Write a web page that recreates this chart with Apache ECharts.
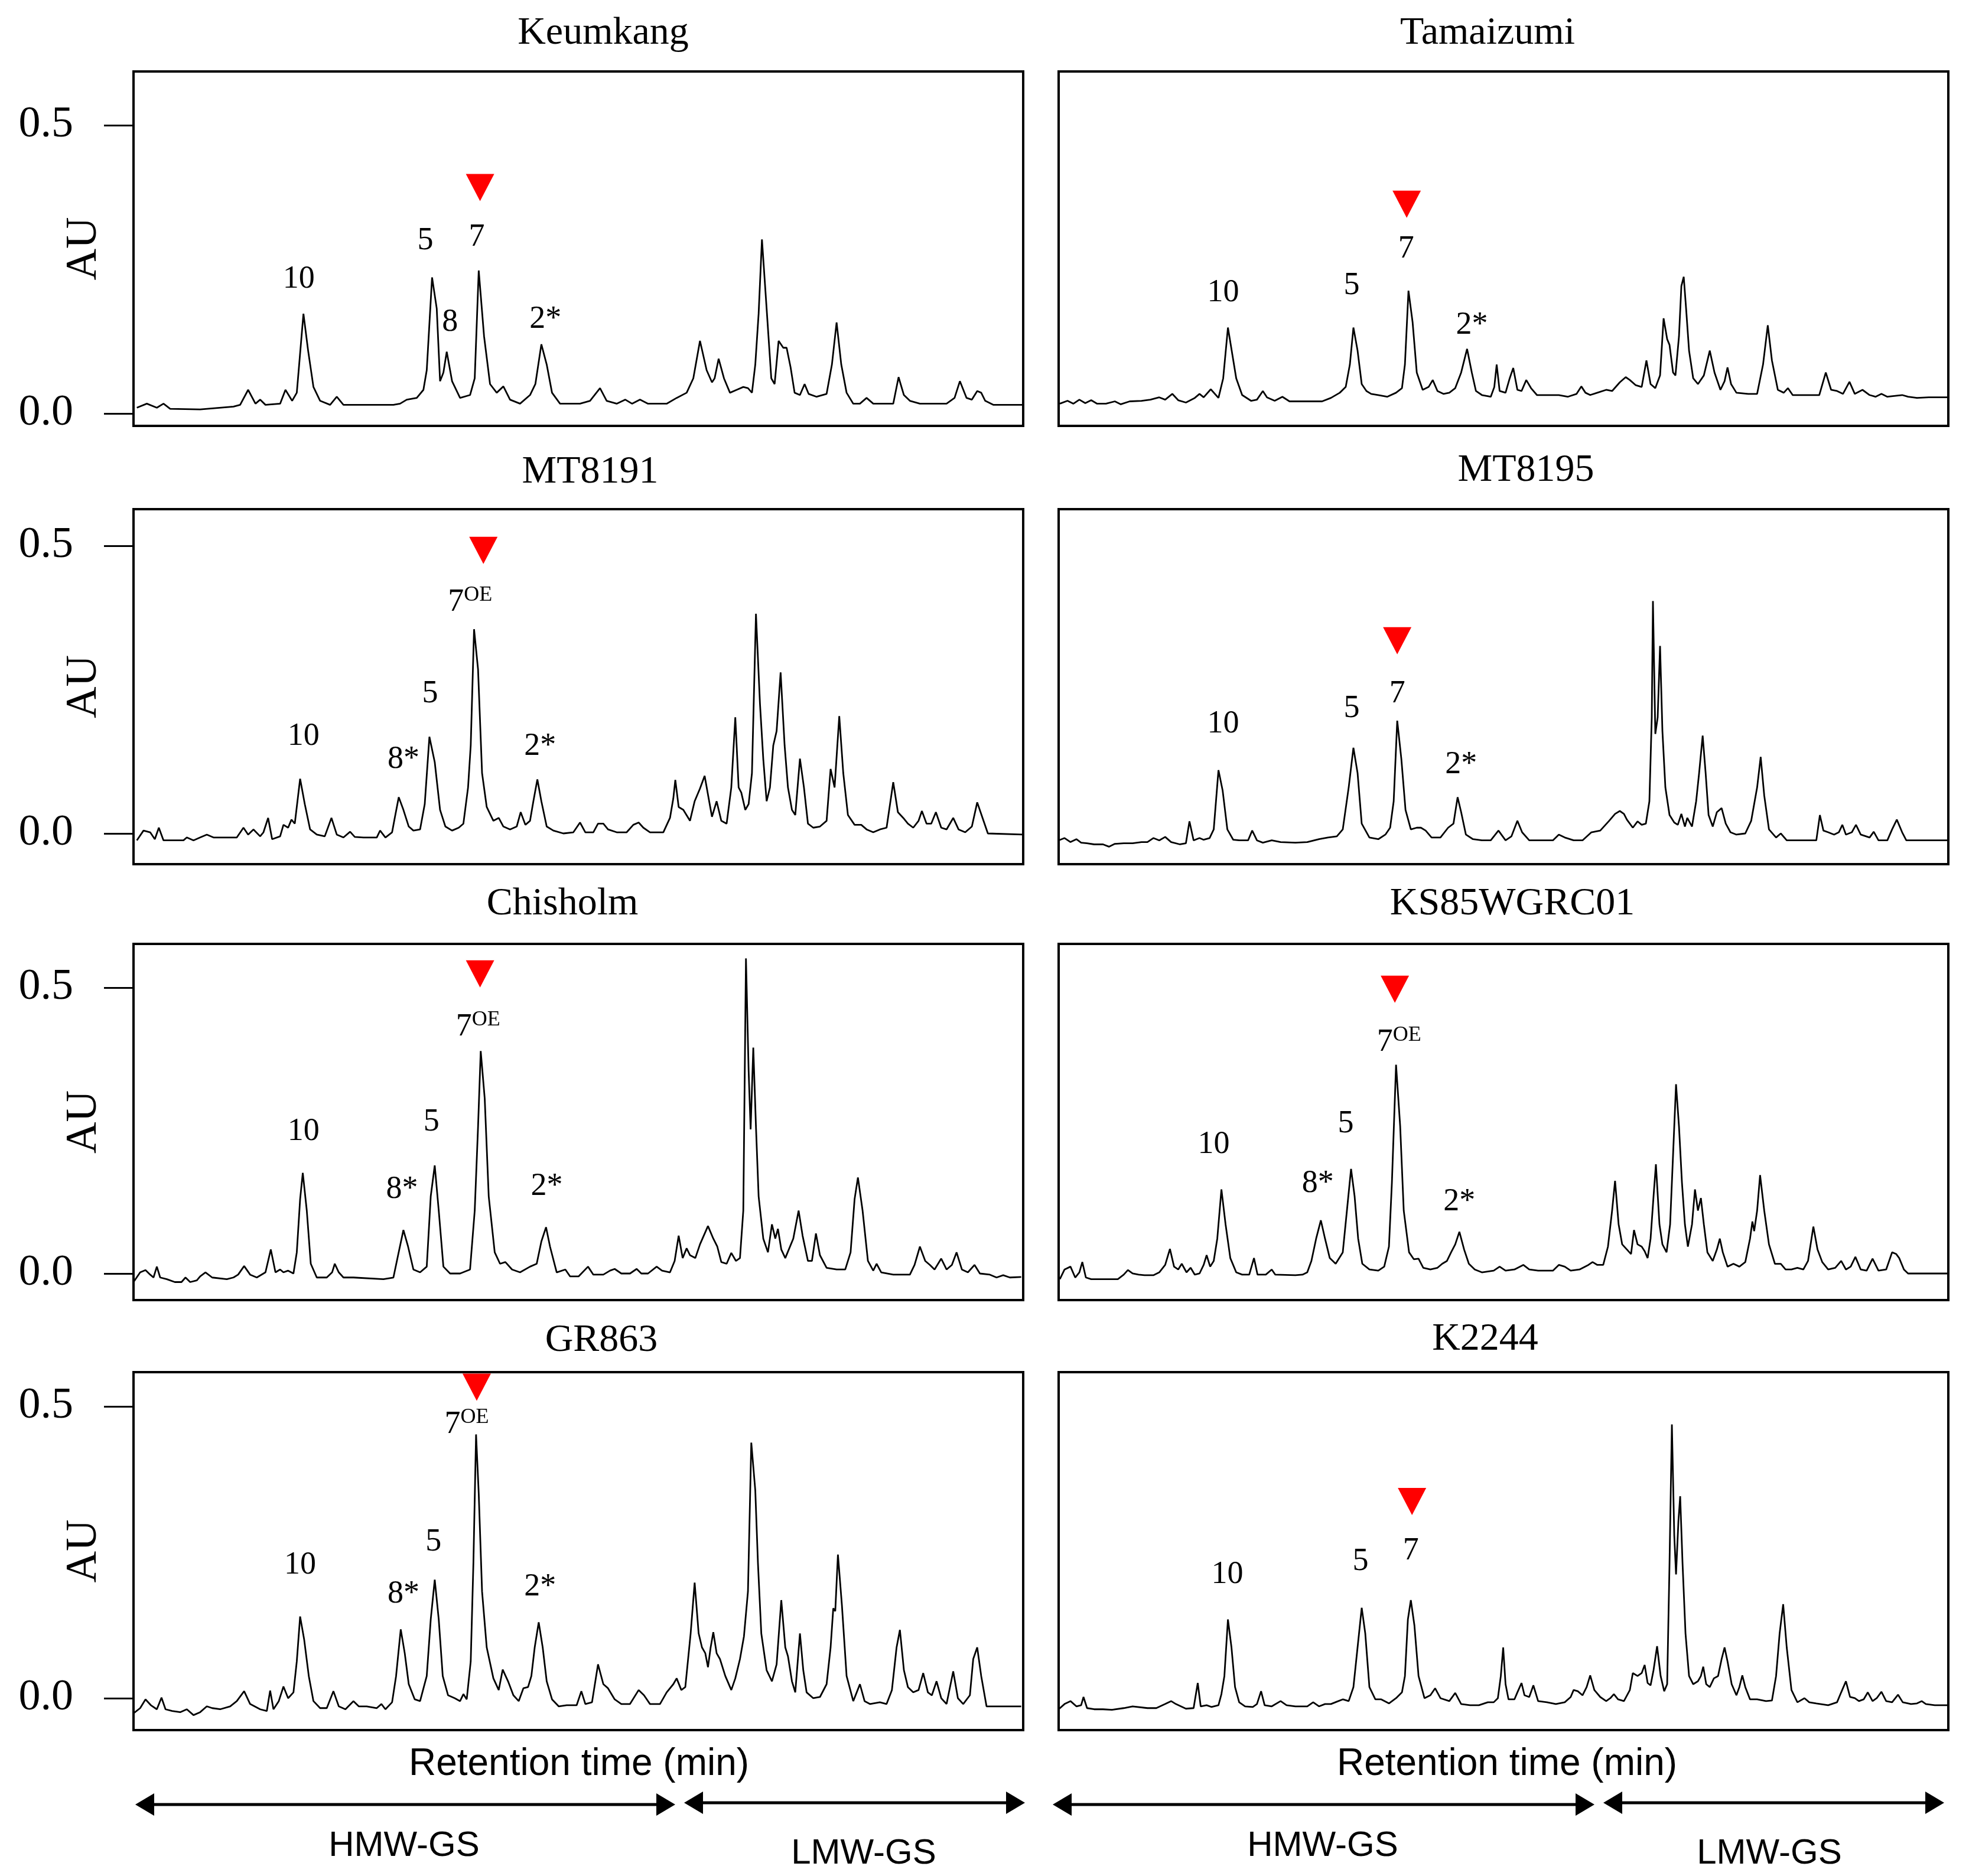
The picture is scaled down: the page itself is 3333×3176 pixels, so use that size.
<!DOCTYPE html>
<html><head><meta charset="utf-8">
<script src="https://cdn.jsdelivr.net/npm/echarts@6/dist/echarts.min.js"></script>
<style>html,body{margin:0;padding:0;background:#fff}#c{width:3333px;height:3176px}</style>
</head><body><div id="c"></div>
<script>
// ---------- DATA ----------
const sampleNames = ['Keumkang','Tamaizumi','MT8191','MT8195','Chisholm','KS85WGRC01','GR863','K2244'];
const yTicks = [0, 0.5];

const keumkang = [[4.1,0.010],[4.4,0.017],[4.7,0.010],[4.9,0.017],[5.1,0.008],[6.0,0.007],[7.0,0.012],[7.2,0.015],[7.44,0.041],[7.66,0.017],[7.8,0.024],[7.96,0.015],[8.4,0.017],[8.56,0.041],[8.76,0.022],[8.9,0.036],[9.1,0.173],[9.24,0.109],[9.4,0.046],[9.6,0.022],[9.9,0.015],[10.1,0.029],[10.3,0.015],[10.5,0.015],[11.8,0.015],[12.0,0.017],[12.2,0.024],[12.5,0.027],[12.7,0.041],[12.8,0.075],[12.96,0.236],[13.1,0.182],[13.2,0.056],[13.3,0.071],[13.4,0.107],[13.56,0.056],[13.8,0.027],[14.1,0.032],[14.24,0.061],[14.36,0.248],[14.52,0.134],[14.7,0.051],[14.9,0.036],[15.1,0.047],[15.3,0.024],[15.6,0.017],[15.9,0.032],[16.06,0.051],[16.24,0.120],[16.4,0.085],[16.56,0.036],[16.8,0.017],[17.4,0.017],[17.7,0.022],[18.0,0.044],[18.2,0.022],[18.5,0.017],[18.76,0.024],[18.96,0.017],[19.2,0.024],[19.44,0.017],[20.0,0.017],[20.3,0.027],[20.6,0.036],[20.8,0.061],[21.0,0.126],[21.2,0.075],[21.36,0.054],[21.44,0.061],[21.56,0.095],[21.72,0.061],[21.9,0.036],[22.1,0.041],[22.3,0.046],[22.44,0.044],[22.56,0.036],[22.66,0.085],[22.76,0.173],[22.86,0.302],[23.0,0.182],[23.14,0.061],[23.24,0.051],[23.36,0.126],[23.5,0.114],[23.6,0.114],[23.72,0.080],[23.84,0.036],[24.0,0.032],[24.14,0.051],[24.26,0.034],[24.5,0.029],[24.8,0.034],[24.96,0.085],[25.1,0.158],[25.24,0.085],[25.4,0.036],[25.6,0.017],[25.8,0.017],[26.0,0.027],[26.2,0.017],[26.8,0.017],[26.96,0.063],[27.12,0.032],[27.3,0.022],[27.6,0.017],[28.4,0.017],[28.64,0.027],[28.8,0.056],[29.0,0.027],[29.16,0.024],[29.32,0.039],[29.44,0.036],[29.56,0.022],[29.8,0.015],[30.7,0.015]];

const tamaizumi = [[0.44,0.017],[0.7,0.022],[0.9,0.017],[1.1,0.024],[1.3,0.018],[1.5,0.023],[1.7,0.017],[2.0,0.017],[2.3,0.021],[2.5,0.016],[2.8,0.021],[3.2,0.022],[3.5,0.024],[3.8,0.028],[4.0,0.024],[4.24,0.034],[4.44,0.023],[4.7,0.019],[5.0,0.027],[5.16,0.034],[5.3,0.028],[5.54,0.042],[5.8,0.027],[5.96,0.061],[6.12,0.149],[6.26,0.105],[6.4,0.061],[6.6,0.032],[6.9,0.022],[7.1,0.024],[7.3,0.039],[7.44,0.028],[7.7,0.022],[7.96,0.029],[8.2,0.021],[9.3,0.021],[9.6,0.027],[9.9,0.036],[10.1,0.046],[10.24,0.085],[10.36,0.149],[10.5,0.109],[10.64,0.051],[10.8,0.039],[10.96,0.034],[11.2,0.032],[11.5,0.029],[11.8,0.036],[12.0,0.044],[12.1,0.085],[12.22,0.213],[12.36,0.158],[12.5,0.071],[12.7,0.041],[12.9,0.046],[13.04,0.058],[13.2,0.039],[13.4,0.034],[13.6,0.036],[13.8,0.044],[14.0,0.071],[14.2,0.112],[14.36,0.071],[14.5,0.039],[14.7,0.032],[15.0,0.029],[15.12,0.046],[15.2,0.085],[15.3,0.039],[15.5,0.036],[15.64,0.061],[15.76,0.079],[15.9,0.041],[16.04,0.039],[16.2,0.058],[16.36,0.044],[16.56,0.032],[17.0,0.032],[17.3,0.032],[17.6,0.029],[17.9,0.034],[18.06,0.047],[18.2,0.036],[18.36,0.032],[18.6,0.036],[18.9,0.041],[19.1,0.039],[19.36,0.054],[19.56,0.063],[19.7,0.058],[19.9,0.049],[20.1,0.046],[20.26,0.092],[20.4,0.051],[20.56,0.044],[20.72,0.066],[20.84,0.165],[20.96,0.129],[21.04,0.119],[21.16,0.071],[21.24,0.066],[21.36,0.134],[21.44,0.221],[21.52,0.237],[21.6,0.182],[21.7,0.109],[21.84,0.061],[22.0,0.051],[22.2,0.066],[22.4,0.109],[22.56,0.071],[22.76,0.041],[22.9,0.056],[23.0,0.080],[23.12,0.051],[23.3,0.036],[23.7,0.034],[24.0,0.034],[24.2,0.085],[24.36,0.153],[24.5,0.092],[24.7,0.041],[24.9,0.036],[25.04,0.044],[25.2,0.032],[25.6,0.032],[26.1,0.032],[26.32,0.071],[26.5,0.041],[26.7,0.039],[26.9,0.034],[27.12,0.055],[27.3,0.034],[27.56,0.041],[27.8,0.032],[28.0,0.029],[28.2,0.034],[28.4,0.029],[28.9,0.032],[29.1,0.029],[29.4,0.027],[29.8,0.028],[30.5,0.028]];

const mt8191 = [[4.1,-0.012],[4.3,0.005],[4.5,0.002],[4.64,-0.010],[4.76,0.010],[4.9,-0.012],[5.2,-0.012],[5.5,-0.012],[5.6,-0.007],[5.8,-0.012],[6.0,-0.007],[6.2,-0.002],[6.4,-0.007],[7.1,-0.007],[7.3,0.010],[7.44,-0.002],[7.6,0.007],[7.8,-0.005],[7.9,0.002],[8.04,0.027],[8.16,-0.010],[8.4,-0.005],[8.5,0.015],[8.64,0.010],[8.74,0.024],[8.84,0.017],[9.0,0.095],[9.14,0.051],[9.3,0.007],[9.5,-0.002],[9.74,-0.005],[9.94,0.027],[10.1,-0.002],[10.3,-0.007],[10.5,0.003],[10.64,-0.006],[10.9,-0.007],[11.3,-0.007],[11.4,0.005],[11.56,-0.007],[11.76,0.002],[11.84,0.027],[11.96,0.063],[12.1,0.041],[12.26,0.012],[12.4,0.005],[12.6,0.007],[12.74,0.051],[12.88,0.168],[13.04,0.124],[13.2,0.041],[13.36,0.012],[13.56,0.005],[13.76,0.010],[13.9,0.017],[14.04,0.080],[14.12,0.153],[14.22,0.355],[14.34,0.285],[14.46,0.105],[14.6,0.046],[14.8,0.022],[14.96,0.027],[15.1,0.012],[15.3,0.007],[15.5,0.012],[15.62,0.037],[15.76,0.015],[15.9,0.022],[16.0,0.056],[16.12,0.094],[16.24,0.056],[16.4,0.012],[16.6,0.005],[16.9,0.000],[17.2,0.002],[17.4,0.019],[17.56,0.002],[17.8,0.002],[17.94,0.017],[18.1,0.017],[18.24,0.007],[18.5,0.002],[18.8,0.002],[19.0,0.015],[19.16,0.019],[19.3,0.010],[19.5,0.002],[19.9,0.002],[20.1,0.027],[20.2,0.061],[20.26,0.093],[20.36,0.046],[20.5,0.041],[20.7,0.022],[20.84,0.056],[21.0,0.078],[21.14,0.100],[21.26,0.061],[21.36,0.029],[21.5,0.056],[21.64,0.022],[21.8,0.017],[21.94,0.080],[22.06,0.202],[22.16,0.080],[22.24,0.071],[22.36,0.041],[22.46,0.051],[22.56,0.105],[22.68,0.382],[22.8,0.226],[22.9,0.129],[23.0,0.056],[23.1,0.080],[23.2,0.153],[23.3,0.178],[23.42,0.280],[23.54,0.153],[23.64,0.080],[23.76,0.041],[23.86,0.032],[24.0,0.130],[24.12,0.080],[24.24,0.017],[24.4,0.010],[24.6,0.012],[24.8,0.022],[24.92,0.112],[25.04,0.080],[25.18,0.204],[25.3,0.105],[25.44,0.032],[25.64,0.015],[25.84,0.015],[26.0,0.007],[26.2,0.002],[26.4,0.007],[26.6,0.010],[26.8,0.089],[26.94,0.037],[27.1,0.027],[27.24,0.017],[27.4,0.010],[27.56,0.022],[27.66,0.039],[27.8,0.017],[27.94,0.017],[28.08,0.037],[28.24,0.010],[28.4,0.007],[28.6,0.027],[28.76,0.007],[28.96,0.002],[29.16,0.012],[29.32,0.054],[29.48,0.027],[29.64,0.000],[30.7,-0.002]];

const mt8195 = [[0.4,-0.012],[0.6,-0.008],[0.8,-0.015],[1.0,-0.010],[1.16,-0.016],[1.36,-0.017],[1.6,-0.019],[1.9,-0.019],[2.1,-0.023],[2.3,-0.018],[2.6,-0.017],[2.9,-0.017],[3.2,-0.015],[3.4,-0.015],[3.6,-0.008],[3.8,-0.012],[4.0,-0.006],[4.2,-0.015],[4.5,-0.019],[4.7,-0.017],[4.82,0.021],[4.96,-0.012],[5.16,-0.008],[5.3,-0.011],[5.5,-0.008],[5.64,0.007],[5.8,0.110],[5.94,0.075],[6.1,0.007],[6.3,-0.011],[6.5,-0.012],[6.8,-0.012],[6.94,0.005],[7.1,-0.012],[7.3,-0.016],[7.6,-0.012],[7.9,-0.015],[8.4,-0.016],[8.8,-0.015],[9.2,-0.010],[9.5,-0.007],[9.8,-0.005],[10.0,0.007],[10.2,0.080],[10.36,0.149],[10.5,0.105],[10.64,0.017],[10.9,-0.007],[11.2,-0.010],[11.44,-0.002],[11.6,0.010],[11.72,0.056],[11.84,0.196],[11.98,0.129],[12.12,0.041],[12.3,0.007],[12.5,0.010],[12.64,0.010],[12.8,0.005],[13.0,-0.007],[13.3,-0.007],[13.56,0.010],[13.74,0.017],[13.88,0.063],[14.0,0.037],[14.16,-0.002],[14.4,-0.010],[14.7,-0.012],[15.0,-0.012],[15.26,0.005],[15.5,-0.012],[15.7,-0.005],[15.9,0.022],[16.06,0.002],[16.3,-0.012],[16.8,-0.012],[17.1,-0.012],[17.3,-0.002],[17.5,-0.007],[17.8,-0.012],[18.1,-0.012],[18.4,0.002],[18.7,0.005],[19.0,0.022],[19.2,0.034],[19.36,0.039],[19.5,0.034],[19.6,0.024],[19.8,0.010],[19.96,0.021],[20.1,0.015],[20.24,0.017],[20.36,0.056],[20.44,0.202],[20.48,0.404],[20.56,0.173],[20.64,0.202],[20.72,0.326],[20.8,0.178],[20.9,0.080],[21.04,0.032],[21.2,0.019],[21.32,0.015],[21.44,0.034],[21.56,0.012],[21.64,0.027],[21.8,0.012],[21.94,0.056],[22.04,0.105],[22.16,0.170],[22.26,0.105],[22.36,0.032],[22.5,0.012],[22.64,0.037],[22.8,0.044],[22.94,0.017],[23.1,0.002],[23.3,-0.002],[23.6,0.000],[23.8,0.022],[24.0,0.080],[24.12,0.133],[24.24,0.066],[24.4,0.007],[24.64,-0.007],[24.8,0.000],[25.0,-0.012],[26.0,-0.012],[26.12,0.032],[26.24,0.005],[26.4,0.002],[26.6,-0.002],[26.76,0.002],[26.88,0.015],[27.0,-0.002],[27.2,0.002],[27.34,0.015],[27.5,-0.002],[27.8,-0.007],[27.94,0.003],[28.1,-0.012],[28.4,-0.012],[28.56,0.007],[28.72,0.024],[28.9,0.002],[29.04,-0.012],[30.44,-0.012]];

const chisholm = [[4.0,-0.015],[4.2,0.002],[4.36,0.006],[4.5,-0.002],[4.6,-0.007],[4.7,0.012],[4.8,-0.007],[5.0,-0.010],[5.24,-0.015],[5.44,-0.015],[5.56,-0.007],[5.7,-0.015],[5.9,-0.012],[6.0,-0.005],[6.16,0.002],[6.36,-0.007],[6.8,-0.010],[7.0,-0.007],[7.14,-0.002],[7.32,0.013],[7.5,-0.002],[7.7,-0.007],[7.96,0.002],[8.12,0.042],[8.26,0.002],[8.4,0.007],[8.5,0.002],[8.64,0.005],[8.8,0.000],[8.9,0.037],[9.0,0.130],[9.08,0.176],[9.2,0.110],[9.32,0.017],[9.5,-0.007],[9.8,-0.007],[9.96,0.002],[10.04,0.017],[10.16,0.002],[10.3,-0.007],[10.6,-0.007],[11.5,-0.010],[11.8,-0.007],[11.94,0.032],[12.1,0.076],[12.24,0.047],[12.4,0.007],[12.6,0.002],[12.8,0.012],[12.92,0.135],[13.04,0.189],[13.16,0.110],[13.3,0.012],[13.5,0.000],[13.8,0.000],[14.1,0.007],[14.24,0.110],[14.34,0.257],[14.42,0.389],[14.54,0.306],[14.66,0.135],[14.84,0.037],[15.0,0.017],[15.16,0.020],[15.36,0.007],[15.6,0.002],[15.9,0.012],[16.1,0.017],[16.24,0.056],[16.38,0.081],[16.5,0.047],[16.7,0.002],[16.96,0.007],[17.1,-0.005],[17.36,-0.005],[17.64,0.012],[17.8,-0.002],[18.1,-0.002],[18.3,0.005],[18.44,0.008],[18.64,0.000],[18.9,0.000],[19.1,0.008],[19.24,0.000],[19.44,0.000],[19.7,0.012],[19.86,0.005],[20.1,0.002],[20.24,0.022],[20.36,0.066],[20.48,0.027],[20.6,0.044],[20.7,0.032],[20.86,0.027],[21.0,0.051],[21.24,0.083],[21.4,0.061],[21.52,0.047],[21.64,0.020],[21.8,0.017],[21.94,0.036],[22.08,0.022],[22.2,0.027],[22.3,0.110],[22.38,0.551],[22.46,0.355],[22.52,0.252],[22.6,0.395],[22.68,0.257],[22.76,0.135],[22.9,0.061],[23.04,0.037],[23.16,0.086],[23.26,0.061],[23.34,0.078],[23.44,0.042],[23.56,0.027],[23.8,0.061],[23.96,0.110],[24.08,0.066],[24.24,0.022],[24.36,0.022],[24.48,0.070],[24.6,0.032],[24.8,0.010],[25.1,0.007],[25.36,0.007],[25.52,0.037],[25.64,0.130],[25.74,0.168],[25.88,0.110],[26.04,0.022],[26.2,0.005],[26.3,0.017],[26.44,0.002],[26.8,-0.002],[27.3,-0.002],[27.44,0.015],[27.6,0.047],[27.76,0.022],[27.9,0.015],[28.04,0.007],[28.24,0.026],[28.4,0.007],[28.56,0.015],[28.7,0.037],[28.86,0.007],[29.04,0.002],[29.24,0.015],[29.4,0.000],[29.7,-0.002],[29.9,-0.007],[30.1,-0.003],[30.3,-0.007],[30.64,-0.006]];

const ks85wgrc01 = [[0.44,-0.010],[0.6,0.007],[0.8,0.012],[0.96,-0.007],[1.1,0.002],[1.2,0.020],[1.32,-0.007],[1.5,-0.010],[2.4,-0.010],[2.6,-0.002],[2.74,0.006],[2.9,0.000],[3.1,-0.002],[3.3,-0.003],[3.6,-0.003],[3.8,0.002],[4.0,0.015],[4.16,0.043],[4.3,0.012],[4.44,0.007],[4.56,0.017],[4.72,0.002],[4.86,0.010],[5.0,-0.002],[5.16,0.000],[5.3,0.015],[5.4,0.032],[5.52,0.012],[5.64,0.022],[5.76,0.061],[5.9,0.147],[6.04,0.086],[6.2,0.027],[6.4,0.002],[6.6,-0.002],[6.84,-0.002],[7.0,0.027],[7.12,-0.002],[7.4,-0.002],[7.6,0.007],[7.72,-0.002],[8.4,-0.003],[8.64,-0.002],[8.8,0.002],[8.94,0.022],[9.1,0.061],[9.26,0.093],[9.4,0.061],[9.56,0.027],[9.76,0.017],[10.0,0.037],[10.14,0.110],[10.28,0.183],[10.4,0.135],[10.52,0.061],[10.66,0.017],[10.9,0.007],[11.2,0.005],[11.4,0.012],[11.56,0.047],[11.66,0.159],[11.8,0.365],[11.94,0.257],[12.06,0.110],[12.24,0.037],[12.4,0.025],[12.56,0.026],[12.72,0.010],[12.96,0.007],[13.2,0.010],[13.36,0.017],[13.52,0.022],[13.66,0.037],[13.8,0.051],[13.94,0.073],[14.1,0.042],[14.26,0.017],[14.46,0.007],[14.7,0.002],[15.1,0.005],[15.3,0.012],[15.5,0.005],[15.8,0.007],[16.1,0.015],[16.3,0.007],[16.6,0.005],[17.1,0.005],[17.3,0.015],[17.5,0.012],[17.7,0.005],[18.0,0.007],[18.3,0.015],[18.44,0.020],[18.6,0.015],[18.8,0.015],[18.96,0.047],[19.1,0.110],[19.2,0.162],[19.32,0.086],[19.44,0.051],[19.6,0.042],[19.74,0.034],[19.84,0.076],[19.96,0.051],[20.1,0.047],[20.2,0.039],[20.3,0.027],[20.4,0.061],[20.5,0.135],[20.58,0.191],[20.7,0.086],[20.8,0.051],[20.94,0.037],[21.06,0.086],[21.16,0.208],[21.26,0.331],[21.36,0.257],[21.46,0.159],[21.56,0.086],[21.66,0.047],[21.8,0.086],[21.9,0.147],[22.0,0.110],[22.1,0.132],[22.2,0.086],[22.32,0.037],[22.5,0.022],[22.64,0.042],[22.74,0.061],[22.84,0.037],[23.0,0.012],[23.2,0.017],[23.4,0.012],[23.6,0.020],[23.76,0.061],[23.84,0.091],[23.9,0.074],[24.0,0.110],[24.1,0.172],[24.24,0.110],[24.4,0.051],[24.6,0.017],[24.8,0.017],[24.96,0.007],[25.16,0.007],[25.36,0.010],[25.56,0.007],[25.72,0.022],[25.9,0.082],[26.04,0.042],[26.2,0.020],[26.4,0.007],[26.64,0.010],[26.84,0.022],[27.0,0.007],[27.16,0.012],[27.32,0.029],[27.5,0.007],[27.7,0.005],[27.9,0.026],[28.1,0.005],[28.36,0.007],[28.56,0.037],[28.7,0.034],[28.8,0.027],[28.96,0.007],[29.1,0.000],[30.5,0.000]];

const gr863 = [[4.0,-0.026],[4.2,-0.017],[4.36,-0.002],[4.52,-0.012],[4.7,-0.019],[4.84,0.001],[4.96,-0.019],[5.16,-0.022],[5.4,-0.024],[5.6,-0.019],[5.8,-0.029],[6.0,-0.024],[6.2,-0.014],[6.36,-0.017],[6.6,-0.019],[6.9,-0.014],[7.1,-0.005],[7.32,0.012],[7.5,-0.010],[7.8,-0.019],[8.0,-0.022],[8.1,0.013],[8.2,-0.019],[8.36,-0.005],[8.5,0.020],[8.64,0.000],[8.8,0.010],[8.9,0.063],[9.0,0.140],[9.12,0.101],[9.26,0.038],[9.4,-0.005],[9.6,-0.017],[9.8,-0.017],[10.0,0.012],[10.16,-0.014],[10.36,-0.019],[10.6,-0.005],[10.76,-0.014],[11.0,-0.014],[11.3,-0.017],[11.44,-0.010],[11.56,-0.019],[11.76,-0.007],[11.88,0.038],[12.02,0.118],[12.14,0.077],[12.26,0.024],[12.44,-0.002],[12.6,-0.005],[12.8,0.038],[12.92,0.135],[13.04,0.203],[13.16,0.135],[13.28,0.038],[13.44,0.005],[13.64,0.000],[13.8,-0.005],[13.9,0.007],[14.0,-0.002],[14.12,0.063],[14.2,0.231],[14.28,0.452],[14.36,0.351],[14.46,0.183],[14.6,0.087],[14.8,0.034],[14.96,0.014],[15.08,0.049],[15.24,0.029],[15.4,0.005],[15.56,-0.005],[15.7,0.017],[15.84,0.019],[15.94,0.038],[16.04,0.087],[16.16,0.130],[16.28,0.087],[16.4,0.029],[16.56,-0.002],[16.76,-0.014],[17.0,-0.012],[17.3,-0.012],[17.44,0.012],[17.56,-0.010],[17.76,-0.007],[17.94,0.058],[18.1,0.024],[18.24,0.017],[18.44,-0.002],[18.64,-0.010],[18.9,-0.010],[19.16,0.014],[19.32,0.005],[19.5,-0.010],[19.8,-0.010],[20.0,0.010],[20.2,0.024],[20.3,0.034],[20.44,0.014],[20.56,0.019],[20.72,0.111],[20.84,0.198],[20.96,0.111],[21.06,0.087],[21.16,0.077],[21.24,0.053],[21.32,0.087],[21.4,0.113],[21.5,0.077],[21.6,0.067],[21.76,0.038],[21.94,0.014],[22.06,0.034],[22.2,0.067],[22.32,0.106],[22.44,0.183],[22.54,0.438],[22.66,0.356],[22.74,0.231],[22.84,0.111],[23.0,0.048],[23.16,0.029],[23.3,0.058],[23.44,0.168],[23.56,0.087],[23.64,0.072],[23.76,0.029],[23.86,0.010],[24.0,0.111],[24.1,0.048],[24.2,0.010],[24.4,0.000],[24.6,0.002],[24.8,0.024],[24.92,0.087],[25.0,0.154],[25.06,0.149],[25.14,0.246],[25.26,0.159],[25.4,0.038],[25.6,-0.005],[25.8,0.024],[25.94,-0.005],[26.1,-0.010],[26.4,-0.007],[26.6,-0.010],[26.76,0.014],[26.9,0.087],[27.0,0.117],[27.12,0.048],[27.24,0.019],[27.4,0.010],[27.56,0.014],[27.7,0.043],[27.84,0.010],[27.96,0.005],[28.1,0.029],[28.24,0.000],[28.4,-0.010],[28.6,0.046],[28.74,0.000],[28.9,-0.010],[29.1,0.005],[29.2,0.067],[29.32,0.087],[29.44,0.038],[29.6,-0.014],[30.64,-0.014]];

const k2244 = [[0.4,-0.019],[0.6,-0.010],[0.8,-0.005],[1.0,-0.014],[1.16,-0.012],[1.24,0.002],[1.36,-0.017],[1.6,-0.019],[1.9,-0.019],[2.2,-0.020],[2.6,-0.017],[2.9,-0.014],[3.4,-0.017],[3.7,-0.017],[4.0,-0.010],[4.2,-0.005],[4.36,-0.010],[4.7,-0.018],[4.96,-0.017],[5.1,0.026],[5.2,-0.014],[5.4,-0.012],[5.56,-0.015],[5.8,-0.012],[5.9,0.007],[6.0,0.038],[6.12,0.135],[6.24,0.087],[6.36,0.019],[6.5,-0.007],[6.7,-0.014],[6.96,-0.015],[7.1,-0.010],[7.24,0.012],[7.36,-0.012],[7.6,-0.014],[7.9,-0.005],[8.1,-0.012],[8.4,-0.014],[8.8,-0.014],[9.0,-0.007],[9.2,-0.014],[9.4,-0.010],[9.6,-0.010],[9.8,-0.006],[10.0,-0.002],[10.2,-0.005],[10.36,0.019],[10.5,0.087],[10.64,0.155],[10.76,0.111],[10.9,0.019],[11.1,-0.002],[11.3,-0.002],[11.56,-0.009],[11.8,0.000],[12.0,0.010],[12.1,0.038],[12.2,0.135],[12.3,0.168],[12.42,0.125],[12.56,0.038],[12.76,0.000],[12.96,0.005],[13.12,0.017],[13.3,0.000],[13.6,-0.005],[13.8,0.009],[14.0,-0.010],[14.3,-0.012],[14.6,-0.012],[14.9,-0.007],[15.1,-0.007],[15.24,0.000],[15.34,0.038],[15.42,0.087],[15.5,0.024],[15.6,-0.002],[15.8,-0.002],[15.9,0.010],[16.04,0.026],[16.14,0.005],[16.3,0.002],[16.44,0.022],[16.6,-0.005],[16.9,-0.007],[17.2,-0.010],[17.5,-0.007],[17.7,0.002],[17.8,0.014],[17.94,0.012],[18.1,0.005],[18.24,0.019],[18.36,0.039],[18.5,0.014],[18.7,0.002],[18.9,-0.005],[19.04,0.000],[19.16,0.007],[19.3,-0.002],[19.5,-0.005],[19.7,0.014],[19.8,0.043],[19.96,0.038],[20.1,0.043],[20.2,0.057],[20.3,0.026],[20.4,0.022],[20.5,0.048],[20.62,0.089],[20.74,0.038],[20.86,0.012],[20.96,0.024],[21.04,0.231],[21.12,0.469],[21.2,0.279],[21.26,0.212],[21.34,0.303],[21.4,0.346],[21.48,0.231],[21.58,0.111],[21.7,0.038],[21.84,0.024],[22.0,0.029],[22.1,0.038],[22.18,0.054],[22.28,0.024],[22.4,0.019],[22.54,0.034],[22.68,0.038],[22.8,0.067],[22.9,0.087],[23.0,0.063],[23.14,0.024],[23.3,0.005],[23.4,0.019],[23.5,0.039],[23.6,0.019],[23.76,-0.002],[24.0,-0.002],[24.3,-0.005],[24.5,-0.004],[24.64,0.038],[24.76,0.111],[24.88,0.161],[25.0,0.087],[25.16,0.014],[25.36,-0.007],[25.6,0.000],[25.76,-0.007],[26.0,-0.009],[26.4,-0.012],[26.7,-0.007],[26.84,0.010],[27.0,0.029],[27.14,0.002],[27.3,0.000],[27.44,-0.005],[27.6,-0.002],[27.74,0.010],[27.9,-0.005],[28.04,0.000],[28.2,0.011],[28.36,-0.005],[28.56,-0.007],[28.76,0.006],[28.92,-0.007],[29.2,-0.010],[29.4,-0.009],[29.56,-0.005],[29.7,-0.010],[30.0,-0.012],[30.44,-0.012]];

// peak labels: [text, x, y]
const keumkangLabels   = [['10',8.96,0.233],['5',12.76,0.299],['7',14.3,0.306],['8',13.5,0.158],['2*',16.36,0.163]];
const tamaizumiLabels  = [['10',5.96,0.209],['5',10.3,0.221],['7',12.14,0.285],['2*',14.36,0.153]];
const mt8191Labels     = [['10',9.1,0.169],['8*',12.1,0.129],['5',12.9,0.243],['7OE',14.1,0.402],['2*',16.2,0.151]];
const mt8195Labels     = [['10',5.96,0.190],['5',10.3,0.217],['7',11.84,0.243],['2*',14.0,0.119]];
const chisholmLabels   = [['10',9.1,0.248],['8*',12.06,0.147],['5',12.94,0.265],['7OE',14.34,0.431],['2*',16.4,0.152]];
const ks85wgrc01Labels = [['10',5.64,0.225],['8*',9.16,0.157],['5',10.1,0.262],['7OE',11.9,0.404],['2*',13.94,0.125]];
const gr863Labels      = [['10',9.0,0.228],['8*',12.1,0.178],['5',13.0,0.267],['7OE',14.0,0.469],['2*',16.2,0.190]];
const k2244Labels      = [['10',6.1,0.212],['5',10.6,0.234],['7',12.3,0.252]];

// red arrowhead markers (x, y) per panel
const markerPos = [[14.4,0.392],[12.16,0.363],[14.5,0.492],[11.84,0.335],[14.4,0.524],[11.76,0.497],[14.3,0.533],[12.34,0.337]];

const regionLabels = ['HMW-GS','LMW-GS'];
const xAxisTitle = 'Retention time (min)';

// ---------- LAYOUT ----------
const traces = [keumkang,tamaizumi,mt8191,mt8195,chisholm,ks85wgrc01,gr863,k2244];
const peakLabels = [keumkangLabels,tamaizumiLabels,mt8191Labels,mt8195Labels,chisholmLabels,ks85wgrc01Labels,gr863Labels,k2244Labels];
const colLeft = [226, 1792], colWidth = 1506;
const rowTop = [121, 862, 1598, 2323], rowHeight = [600, 601, 603, 606];
const rowY = [[-0.0215,0.5932],[-0.0534,0.5637],[-0.0465,0.5764],[-0.0547,0.5587]];
const colX = [[4.0,30.7],[0.4,30.46]];
const titlePos = [[1021,57],[2518,57],[999,800],[2583,797],[952,1531],[2560,1531],[1018,2270],[2514,2268]];
const SERIF = 'Liberation Serif, Times New Roman, serif';
const SANS = 'Liberation Sans, Arial, sans-serif';

const grids=[], xAxes=[], yAxes=[], series=[], graphics=[];
for (let i=0;i<8;i++){
  const r = Math.floor(i/2), c = i%2;
  grids.push({left:colLeft[c], top:rowTop[r], width:colWidth, height:rowHeight[r], show:true,
    borderColor:'#000', borderWidth:4, backgroundColor:'transparent', containLabel:false, outerBoundsMode:'none'});
  xAxes.push({gridIndex:i, type:'value', min:colX[c][0], max:colX[c][1], show:false});
  if (c===0){
    yAxes.push({gridIndex:i, type:'value', min:rowY[r][0], max:rowY[r][1],
      axisLine:{show:false}, splitLine:{show:false},
      axisTick:{show:true, inside:false, length:50, customValues:yTicks, lineStyle:{color:'#000', width:3}},
      axisLabel:{show:true, customValues:yTicks, margin:102, fontSize:74, fontFamily:SERIF, color:'#000', formatter:v=>Number(v).toFixed(1)},
      name:'AU', nameLocation:'middle', nameGap:46, nameRotate:90, nameMoveOverlap:false,
      nameTextStyle:{fontSize:74, fontFamily:SERIF, color:'#000'}});
  } else {
    yAxes.push({gridIndex:i, type:'value', min:rowY[r][0], max:rowY[r][1], show:false, splitLine:{show:false}});
  }
  series.push({type:'line', xAxisIndex:i, yAxisIndex:i, data:traces[i], symbol:'none', showSymbol:false,
    lineStyle:{color:'#000', width:2.8, opacity:1}, silent:true, animation:false});
  series.push({type:'scatter', xAxisIndex:i, yAxisIndex:i, data:[markerPos[i]], symbol:'triangle', symbolRotate:180,
    symbolSize:[48,46], itemStyle:{color:'#FF0000', opacity:1}, silent:true, animation:false, z:5});
  series.push({type:'scatter', xAxisIndex:i, yAxisIndex:i, animation:false, silent:true, z:6,
    data:peakLabels[i].map(([t,x,y])=>({name:t, value:[x,y]})),
    symbol:'circle', symbolSize:1, itemStyle:{color:'rgba(0,0,0,0)', opacity:1},
    label:{show:true, position:'inside', opacity:1,
      formatter:p=> p.name==='7OE' ? '{n|7}{s|OE}' : '{n|'+p.name+'}',
      rich:{n:{fontSize:54, fontFamily:SERIF, color:'#000', lineHeight:60},
            s:{fontSize:36, fontFamily:SERIF, color:'#000', verticalAlign:'top'}}}});
  graphics.push({type:'text', x:titlePos[i][0], y:titlePos[i][1], silent:true,
    style:{text:sampleNames[i], fontSize:66, fontFamily:SERIF, fill:'#000',
      align:'center', verticalAlign:'middle', textAlign:'center', textVerticalAlign:'middle'}});
}
// bottom annotation: axis titles, arrows, region labels
const bottom = [
  {title:980, arrows:[[229,1143,3055],[1158,1735,3052]], labels:[[684,3125],[1462,3138]]},
  {title:2551, arrows:[[1782,2699,3055],[2714,3291,3052]], labels:[[2239,3125],[2995,3138]]}
];
bottom.forEach(b=>{
  graphics.push({type:'text', x:b.title, y:2987, silent:true,
    style:{text:xAxisTitle, fontSize:64, fontFamily:SANS, fill:'#000', align:'center', verticalAlign:'middle', textAlign:'center', textVerticalAlign:'middle'}});
  b.arrows.forEach(([x1,x2,y])=>{
    graphics.push({type:'line', silent:true, shape:{x1:x1+20,y1:y,x2:x2-20,y2:y}, style:{stroke:'#000', lineWidth:5}});
    graphics.push({type:'polygon', silent:true, shape:{points:[[x1,y],[x1+32,y-19],[x1+32,y+19]]}, style:{fill:'#000'}});
    graphics.push({type:'polygon', silent:true, shape:{points:[[x2,y],[x2-32,y-19],[x2-32,y+19]]}, style:{fill:'#000'}});
  });
  b.labels.forEach(([x,y],k)=>{
    graphics.push({type:'text', x:x, y:y, silent:true,
      style:{text:regionLabels[k], fontSize:60, fontFamily:SANS, fill:'#000', align:'center', verticalAlign:'middle', textAlign:'center', textVerticalAlign:'middle'}});
  });
});

const chart = echarts.init(document.getElementById('c'), null, {renderer:'canvas'});
chart.setOption({
  animation:false, backgroundColor:'#fff',
  textStyle:{fontFamily:SERIF},
  grid:grids, xAxis:xAxes, yAxis:yAxes, series:series, graphic:graphics
});
</script></body></html>
